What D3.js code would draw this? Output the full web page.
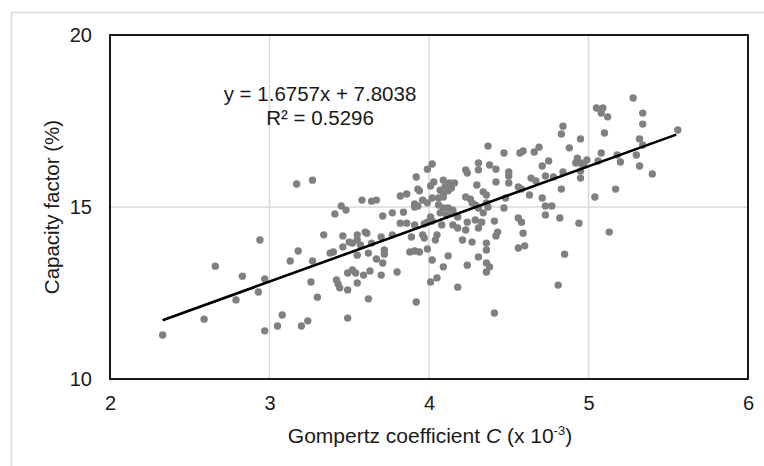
<!DOCTYPE html>
<html>
<head>
<meta charset="utf-8">
<script src="https://cdn.jsdelivr.net/npm/d3@7"></script>
<style>
  body { margin: 0; background: #fff; }
  svg { display: block; font-family: "Liberation Sans", Arial, sans-serif; }
</style>
</head>
<body>
<svg id="chart"></svg>
<script>
// Gompertz coefficient C (x 10^-3) for each site
const gompertzC = [
  2.33, 2.59, 2.66, 2.79, 2.83, 2.94, 2.93, 2.97, 2.97, 3.05, 3.08, 3.13, 3.18, 3.17,
  3.27, 3.20, 3.24, 3.27, 3.26, 3.30, 3.34, 3.38, 3.40, 3.41, 3.45, 3.48, 3.46, 3.46,
  3.50, 3.52, 3.55, 3.57, 3.55, 3.55, 3.60, 3.61, 3.42, 3.43, 3.44, 3.49, 3.52, 3.54,
  3.49, 3.55, 3.59, 3.62, 3.49, 3.58, 3.62, 3.64, 3.67, 3.63, 3.67, 3.71, 3.70, 3.72,
  3.72, 3.70, 3.64, 3.80, 3.71, 3.77, 3.84, 3.82, 3.86, 3.91, 3.91, 3.77, 3.89, 3.96,
  3.97, 3.88, 3.91, 3.94, 3.99, 4.02, 3.92, 4.01, 4.05, 4.09, 4.12, 3.82, 3.86, 3.93,
  3.92, 3.99, 4.02, 3.91, 3.93, 3.96, 3.99, 4.02, 3.99, 4.02, 4.01, 3.97, 4.03, 4.01,
  3.94, 4.09, 4.13, 4.16, 4.10, 4.14, 4.07, 4.09, 4.12, 4.06, 4.09, 4.06, 4.09, 4.12,
  4.15, 4.07, 4.11, 4.15, 4.18, 4.08, 4.15, 4.18, 4.23, 4.05, 4.04, 4.21, 4.27, 4.24,
  4.18, 4.23, 4.23, 4.24, 4.24, 4.26, 4.27, 4.31, 4.31, 4.38, 4.42, 4.37, 4.47, 4.57,
  4.59, 4.66, 4.69, 4.30, 4.42, 4.50, 4.50, 4.50, 4.56, 4.58, 4.64, 4.67, 4.34, 4.36,
  4.48, 4.63, 4.29, 4.31, 4.37, 4.47, 4.29, 4.33, 4.31, 4.41, 4.56, 4.58, 4.43, 4.42,
  4.59, 4.36, 4.36, 4.56, 4.60, 4.31, 4.36, 4.38, 4.36, 4.41, 4.36, 4.34, 4.71, 4.75,
  4.73, 4.78, 4.84, 4.71, 4.83, 4.73, 4.77, 4.73, 4.82, 4.85, 4.81, 4.84, 4.83, 4.88,
  4.95, 4.93, 4.92, 4.95, 4.99, 4.97, 5.06, 5.08, 4.95, 5.04, 4.94, 5.13, 5.05, 5.09,
  5.08, 5.12, 5.10, 5.28, 5.34, 5.34, 5.56, 5.32, 5.34, 5.18, 5.20, 5.30, 5.32, 5.40,
  5.17, 4.95
];
// Capacity factor (%) for the same sites
const capacityFactor = [
  11.28, 11.74, 13.28, 12.30, 12.99, 14.04, 12.53, 12.91, 11.40, 11.54, 11.86, 13.43, 13.72, 15.67,
  15.78, 11.54, 11.69, 13.43, 12.82, 12.38, 14.19, 13.66, 13.69, 14.80, 15.03, 14.91, 14.16, 13.84,
  13.98, 13.95, 14.04, 13.90, 13.60, 14.19, 14.27, 14.24, 12.88, 12.76, 12.65, 13.08, 13.17, 13.08,
  12.59, 12.79, 13.02, 12.33, 11.77, 15.20, 13.66, 15.17, 15.20, 13.14, 13.49, 13.37, 13.02, 13.75,
  13.63, 14.13, 13.95, 13.11, 14.74, 14.83, 14.85, 14.53, 14.53, 15.00, 14.48, 14.19, 14.13, 14.19,
  14.10, 13.69, 13.72, 13.69, 13.78, 13.46, 12.24, 12.82, 12.94, 13.26, 13.58, 15.32, 15.38, 15.52,
  15.87, 16.10, 16.25, 15.09, 15.03, 15.20, 15.12, 15.26, 14.56, 14.59, 14.71, 14.51, 15.73, 15.61,
  15.47, 15.78, 15.70, 15.70, 15.58, 15.55, 15.49, 15.41, 15.47, 15.26, 15.29, 15.06, 14.97, 14.97,
  14.91, 14.83, 14.77, 14.83, 14.71, 14.48, 14.48, 14.39, 14.33, 14.19, 14.04, 14.04, 13.98, 13.31,
  12.67, 15.29, 16.08, 15.99, 14.56, 15.23, 15.12, 16.28, 16.08, 16.22, 16.10, 16.77, 16.57, 16.57,
  16.63, 16.60, 16.74, 15.64, 15.73, 15.70, 16.02, 15.90, 15.58, 15.52, 15.84, 15.76, 15.44, 15.35,
  15.26, 15.35, 15.06, 14.97, 15.00, 14.97, 14.62, 14.56, 14.39, 14.59, 14.68, 14.56, 14.27, 14.16,
  14.24, 13.95, 13.75, 13.81, 13.87, 13.55, 13.37, 13.26, 13.11, 11.92, 15.12, 14.83, 16.19, 16.34,
  15.90, 15.87, 16.02, 15.26, 15.52, 15.03, 15.03, 14.77, 14.68, 13.63, 12.73, 17.35, 17.12, 16.72,
  16.98, 16.42, 16.28, 16.28, 16.37, 16.22, 16.34, 16.57, 15.84, 15.29, 14.53, 14.27, 17.88, 17.88,
  17.73, 17.62, 17.15, 18.17, 17.73, 17.41, 17.24, 16.98, 16.80, 16.51, 16.31, 16.51, 16.19, 15.96,
  15.52, 16.05
];

// linear trendline
const fitSlope = 1.6757;
const fitIntercept = 7.8038;
const fitExtent = [2.33, 5.55];
const fitLabel = "y = 1.6757x + 7.8038";
const r2Label = "R² = 0.5296";

const xTicks = [2, 3, 4, 5, 6];
const yTicks = [10, 15, 20];

const width = 764, height = 466;
const margin = {top: 35, right: 16, bottom: 87, left: 110};

const svg = d3.select("#chart")
  .attr("width", width)
  .attr("height", height);

// outer chart frame (only top/left visible in the crop)
svg.append("rect")
  .attr("x", 11.5).attr("y", 12.5)
  .attr("width", 800).attr("height", 500)
  .attr("fill", "none")
  .attr("stroke", "#d9d9d9")
  .attr("stroke-width", 1.5);

const x = d3.scaleLinear().domain([2, 6]).range([margin.left, width - margin.right]);
const y = d3.scaleLinear().domain([10, 20]).range([height - margin.bottom, margin.top]);

// gridlines
svg.append("g")
  .selectAll("line.vgrid")
  .data(xTicks.slice(1, -1))
  .enter().append("line")
  .attr("x1", d => x(d)).attr("x2", d => x(d))
  .attr("y1", y(10)).attr("y2", y(20))
  .attr("stroke", "#d9d9d9").attr("stroke-width", 1.5);

svg.append("g")
  .selectAll("line.hgrid")
  .data(yTicks.slice(1, -1))
  .enter().append("line")
  .attr("x1", x(2)).attr("x2", x(6))
  .attr("y1", d => y(d)).attr("y2", d => y(d))
  .attr("stroke", "#d9d9d9").attr("stroke-width", 1.5);

// axes (labels only, no tick marks)
const xAxis = svg.append("g")
  .attr("transform", `translate(0,${y(10)})`)
  .call(d3.axisBottom(x).tickValues(xTicks).tickFormat(d3.format("d")).tickSize(0).tickPadding(17));
const yAxis = svg.append("g")
  .attr("transform", `translate(${x(2)},0)`)
  .call(d3.axisLeft(y).tickValues(yTicks).tickFormat(d3.format("d")).tickSize(0).tickPadding(18));

[xAxis, yAxis].forEach(g => {
  g.select(".domain").remove();
  g.selectAll("text")
    .attr("font-family", "'Liberation Sans', Arial, sans-serif")
    .attr("font-size", 20)
    .attr("fill", "#1a1a1a");
});

// points
const pts = gompertzC.map((c, i) => [c, capacityFactor[i]]);
svg.append("g")
  .selectAll("circle")
  .data(pts)
  .enter().append("circle")
  .attr("cx", d => x(d[0]))
  .attr("cy", d => y(d[1]))
  .attr("r", 3.7)
  .attr("fill", "#808080");

// trendline
const line = d3.line()
  .x(d => x(d))
  .y(d => y(fitSlope * d + fitIntercept));
svg.append("path")
  .datum(fitExtent)
  .attr("d", line)
  .attr("fill", "none")
  .attr("stroke", "#000")
  .attr("stroke-width", 2.6);

// plot frame
svg.append("rect")
  .attr("x", x(2)).attr("y", y(20))
  .attr("width", x(6) - x(2))
  .attr("height", y(10) - y(20))
  .attr("fill", "none")
  .attr("stroke", "#000")
  .attr("stroke-width", 1.8);

// equation labels
svg.append("text")
  .attr("x", 320).attr("y", 101)
  .attr("text-anchor", "middle")
  .attr("font-size", 20.5)
  .attr("fill", "#1a1a1a")
  .text(fitLabel);
svg.append("text")
  .attr("x", 320).attr("y", 125)
  .attr("text-anchor", "middle")
  .attr("font-size", 20.5)
  .attr("fill", "#1a1a1a")
  .text(r2Label);

// axis titles
const xt = svg.append("text")
  .attr("x", 430).attr("y", 443)
  .attr("text-anchor", "middle")
  .attr("font-size", 21)
  .attr("fill", "#1a1a1a");
xt.append("tspan").text("Gompertz coefficient ");
xt.append("tspan").attr("font-style", "italic").text("C");
xt.append("tspan").text(" (x 10");
xt.append("tspan").attr("font-size", 13).attr("dy", -8).text("-3");
xt.append("tspan").attr("dy", 8).text(")");

svg.append("text")
  .attr("transform", `translate(59,${(y(10) + y(20)) / 2}) rotate(-90)`)
  .attr("text-anchor", "middle")
  .attr("font-size", 20.5)
  .attr("fill", "#1a1a1a")
  .text("Capacity factor (%)");
</script>
</body>
</html>
